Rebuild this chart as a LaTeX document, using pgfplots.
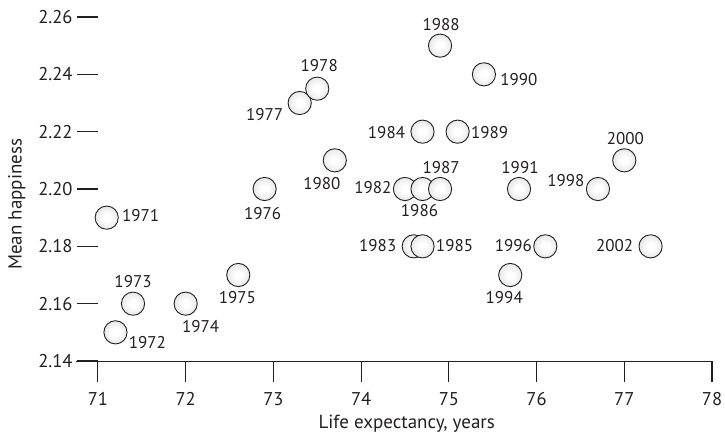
\documentclass[border=0pt]{standalone}
\usepackage{fontspec}
\setmainfont{PT Sans}
\usepackage{pgfplots}
\usepackage{pgfplotstable}
\pgfplotsset{compat=1.18}
\definecolor{txt}{HTML}{231F20}
\pgfdeclareradialshading{ballshade}{\pgfpoint{0bp}{0bp}}{color(0bp)=(white); color(8bp)=(white); color(30bp)=(black!12); color(50bp)=(black!20)}
\pgfdeclareplotmark{ball}{%
  \pgfpathcircle{\pgfpointorigin}{\pgfplotmarksize}%
  \pgfshadepath{ballshade}{0}%
  \pgfusepath{stroke}%
}
\pgfplotstableread{
x y year dx dy
71.1 2.19 1971 34 2
71.2 2.15 1972 32 -10
71.4 2.16 1973 0 22
72.0 2.16 1974 15 -23
72.6 2.17 1975 -1 -23
72.9 2.20 1976 -2 -25
73.3 2.23 1977 -35 -12
73.5 2.235 1978 2 23
73.7 2.21 1980 -13 -23
74.5 2.20 1982 -32 1
74.6 2.18 1983 -36 1
74.7 2.22 1984 -36 -1
74.7 2.18 1985 32 1
74.7 2.20 1986 -3 -22
74.9 2.20 1987 1 21
74.9 2.25 1988 1 21
75.1 2.22 1989 32 -1
75.4 2.24 1990 35 -5
75.8 2.20 1991 1 21
75.7 2.17 1994 -6 -23
76.1 2.18 1996 -32 1
76.7 2.20 1998 -32 8
77.0 2.21 2000 1 22
77.3 2.18 2002 -36 1
}\data
\begin{document}
\begin{tikzpicture}
\begin{axis}[
  scale only axis, width=636pt, height=344pt,
  xmin=70.75, xmax=78, ymin=2.14, ymax=2.26,
  clip=false,
  axis x line=bottom, axis y line=left,
  x axis line style={-, line width=0.9pt, draw=txt},
  y axis line style={draw=none},
  xtick={71,...,78}, ytick={2.14,2.16,...,2.27},
  tick align=outside,
  major tick length=21pt,
  x tick style={line width=1.1pt, draw=txt},
  y tick style={line width=1.1pt, draw=txt, xshift=22pt},
  /pgf/number format/assume math mode=true,
  ticklabel style={font=\fontsize{18.5}{21}\selectfont, text=txt},
  xticklabel style={yshift=-7pt},
  yticklabel style={/pgf/number format/fixed, /pgf/number format/fixed zerofill, /pgf/number format/precision=2, xshift=21pt},
  xlabel={Life expectancy, years},
  ylabel={Mean happiness},
  label style={font=\fontsize{19}{22}\selectfont, text=txt},
  xlabel style={at={(axis description cs:0.52,-0.182)}, anchor=center},
  ylabel style={at={(axis description cs:-0.093,0.456)}, anchor=center},
]
\addplot[only marks, mark=ball, mark size=11.6pt, draw=txt, line width=0.9pt,
  point meta=explicit symbolic,
  visualization depends on={\thisrow{dx}\as\dx},
  visualization depends on={\thisrow{dy}\as\dy},
  nodes near coords={\pgfplotspointmeta},
  nodes near coords style={anchor=center, xshift=\dx pt, yshift=\dy pt, font=\fontsize{17}{20}\selectfont, text=txt, inner sep=0pt},
] table[x=x, y=y, meta=year] {\data};
\coordinate (BL) at (rel axis cs:0,0);
\end{axis}
\pgfresetboundingbox
\path (BL) ++(-76pt,-76pt) rectangle ++(725pt,437pt);
\end{tikzpicture}
\end{document}
